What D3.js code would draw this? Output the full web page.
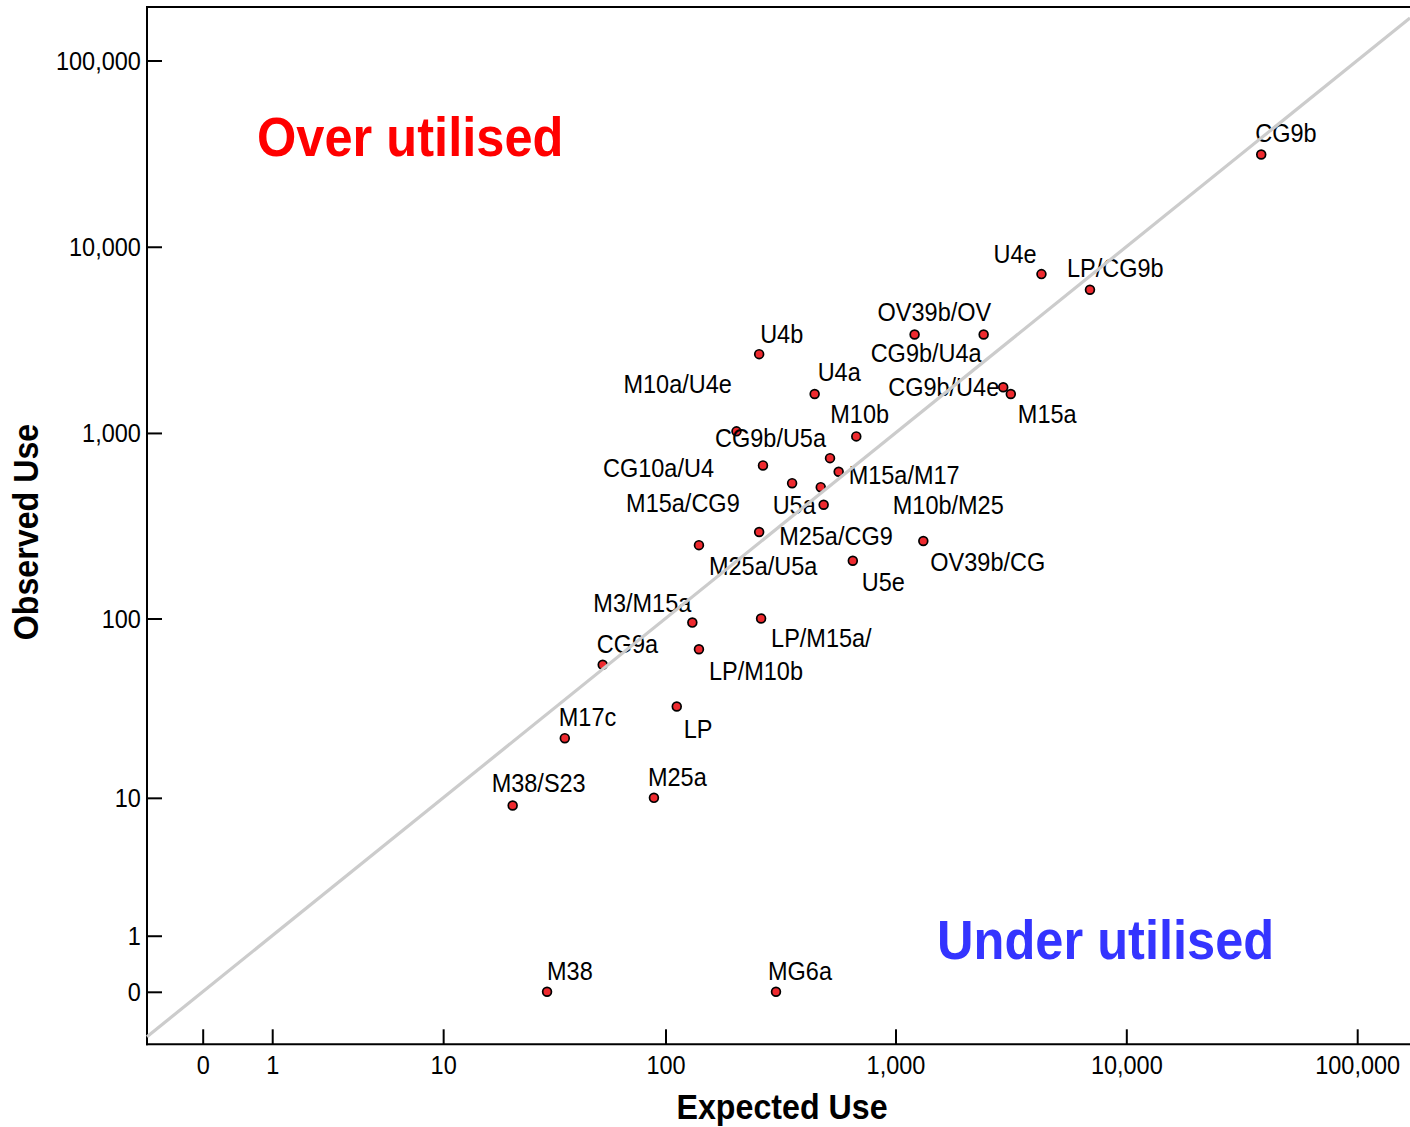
<!DOCTYPE html>
<html><head><meta charset="utf-8">
<script src="https://cdn.jsdelivr.net/npm/d3@7"></script>
<style>
body{margin:0;background:#fff}
svg{display:block}
text{font-family:"Liberation Sans",Arial,Helvetica,sans-serif}
</style>
</head><body>
<svg id="chart" width="1410" height="1127"></svg>
<script>
// ---- data ----
const pointLabels = ["CG9b","U4e","LP/CG9b","OV39b/OV","CG9b/U4a","CG9b/U4e","M15a","U4b","U4a","M10a/U4e","M10b","CG9b/U5a","CG10a/U4","M15a/M17","M15a/CG9","M10b/M25","U5a","M25a/CG9","M25a/U5a","OV39b/CG","U5e","M3/M15a","LP/M15a/","CG9a","LP/M10b","LP","M17c","M25a","M38/S23","M38","MG6a"];
const expectedUse = [38400,4290,6960,1210,2410,2930,3160,256,446,204,676,520,266,567,356,474,488,256,140,1320,653,131,261,53,140,112,36,89,21,30,303];
const observedUse = [31300,7130,5880,3380,3380,1760,1620,2650,1620,1020,958,732,669,619,537,511,411,293,249,262,205,95,100,56,68,33,22,10,9,0,0];
const xTickValues = [0,1,10,100,1000,10000,100000];
const yTickValues = [0,1,10,100,1000,10000,100000];
const xTitle = "Expected Use";
const yTitle = "Observed Use";
const overText = "Over utilised";
const underText = "Under utilised";

// ---- layout (label offsets from point, px) ----
const labelOffsets = [[-6,-12],[-48,-11],[-23,-13],[-37,-13],[-113,28],[-115,9],[7,29],[1,-11],[3,-13],[-113,-38],[-26,-13],[-115,-11],[-160,12],[10,12],[-166,29],[72,27],[-51,9],[20,13],[10,30],[7,30],[9,30],[-99,-11],[10,29],[-6,-12],[10,31],[7,31],[-6,-12],[-6,-12],[-21,-14],[0,-12],[-8,-12]];

const L = 147, R = 1410, T = 7, B = 1044.3;
const SX = 0.92, SXL = 0.94;

const svg = d3.select("#chart");
const x = d3.scaleSymlog().constant(1).domain([0,100000]).range([202.7,1357.2]);
const y = d3.scaleSymlog().constant(1).domain([0,100000]).range([991.8,60.5]);
const fmt = d3.format(",");

// axes
const xAxis = d3.axisBottom(x).tickValues(xTickValues).tickFormat(fmt).tickSizeInner(-15).tickSizeOuter(0).tickPadding(12);
const gx = svg.append("g").attr("transform",`translate(0,${B})`).call(xAxis);
gx.select(".domain").remove();
gx.selectAll(".tick line").attr("stroke","#000").attr("stroke-width",2);
gx.selectAll(".tick text").attr("font-size",25).attr("fill","#000").attr("font-family",null)
  .attr("transform",`scale(${SXL},1)`);

const yAxis = d3.axisLeft(y).tickValues(yTickValues).tickFormat(fmt).tickSizeInner(-15).tickSizeOuter(0).tickPadding(6.5);
const gy = svg.append("g").attr("transform",`translate(${L},0)`).call(yAxis);
gy.select(".domain").remove();
gy.selectAll(".tick line").attr("stroke","#000").attr("stroke-width",2);
gy.selectAll(".tick text").attr("font-size",25).attr("fill","#000").attr("font-family",null)
  .attr("dy","0.36em").attr("transform",`scale(${SXL},1)`);

// frame lines
svg.append("line").attr("x1",L).attr("x2",L).attr("y1",T).attr("y2",B+1).attr("stroke","#000").attr("stroke-width",2);
svg.append("line").attr("x1",L-1).attr("x2",R).attr("y1",B).attr("y2",B).attr("stroke","#000").attr("stroke-width",2);
svg.append("line").attr("x1",L-1).attr("x2",R).attr("y1",T).attr("y2",T).attr("stroke","#000").attr("stroke-width",2);

// points
const data = pointLabels.map((n,i)=>({name:n, ex:expectedUse[i], ob:observedUse[i], off:labelOffsets[i]}));
svg.append("g").selectAll("circle").data(data).join("circle")
  .attr("cx",d=>x(d.ex)).attr("cy",d=>y(d.ob)).attr("r",4.4)
  .attr("fill","#ee2a2f").attr("stroke","#000").attr("stroke-width",1.7);

svg.append("g").selectAll("text").data(data).join("text")
  .attr("transform",d=>`translate(${x(d.ex)+d.off[0]},${y(d.ob)+d.off[1]}) scale(${SXL},1)`)
  .attr("font-size",25).attr("fill","#000").text(d=>d.name);

// diagonal reference line (observed = expected)
const t0 = Math.max(x.invert(L), y.invert(B));
const t1 = Math.min(x.invert(R), y.invert(T));
svg.append("line")
  .attr("x1",x(t0)).attr("y1",y(t0)).attr("x2",x(t1)).attr("y2",y(t1))
  .attr("stroke","#cccccc").attr("stroke-width",3.2);

// annotations
svg.append("text").attr("transform",`translate(257,156) scale(${SX},1)`)
  .attr("font-size",55).attr("font-weight","bold").attr("fill","#ff0000").text(overText);
svg.append("text").attr("transform",`translate(937,959) scale(${SX},1)`)
  .attr("font-size",55).attr("font-weight","bold").attr("fill","#3434ff").text(underText);

// axis titles
svg.append("text").attr("transform",`translate(782,1119) scale(${SX},1)`)
  .attr("text-anchor","middle").attr("font-size",35).attr("font-weight","bold").attr("fill","#000").text(xTitle);
svg.append("text").attr("transform",`translate(38,532) rotate(-90) scale(${SX},1)`)
  .attr("text-anchor","middle").attr("font-size",35).attr("font-weight","bold").attr("fill","#000").text(yTitle);
</script>
</body></html>
